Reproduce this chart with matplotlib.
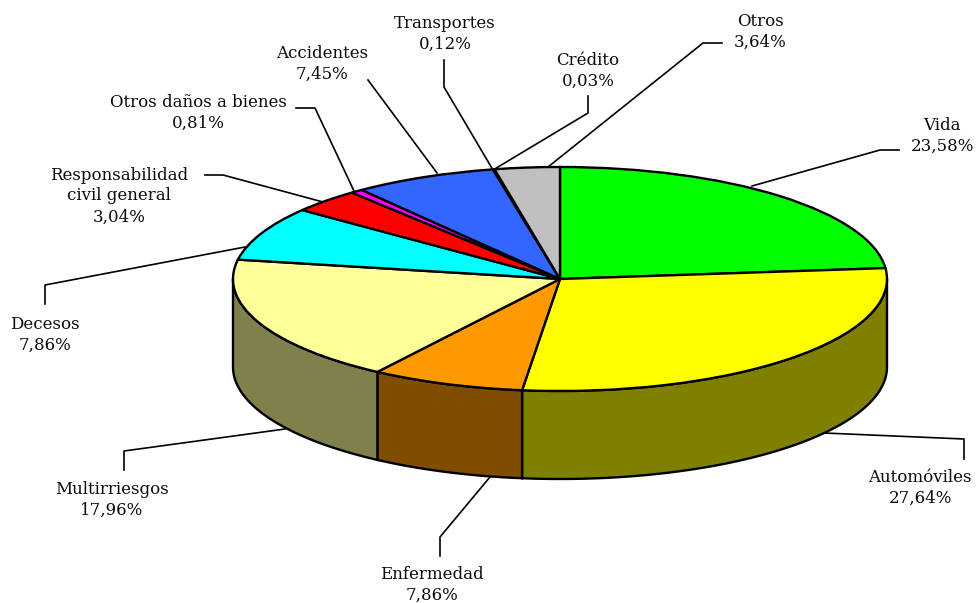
#!/usr/bin/env python3

import matplotlib
matplotlib.use('Agg')
import matplotlib.pyplot as plt
import numpy as np

plt.rcParams['font.family'] = ['DejaVu Serif']

names = ['Vida', 'Automóviles', 'Enfermedad', 'Multirriesgos', 'Decesos',
         'Responsabilidad\ncivil general', 'Otros daños a bienes', 'Accidentes',
         'Transportes', 'Crédito', 'Otros']
# percentages printed on the labels
values = [23.58, 27.64, 7.86, 17.96, 7.86, 3.04, 0.81, 7.45, 0.12, 0.03, 3.64]
# slice sizes as they are actually drawn in the picture (differ a bit from the labels)
drawn = [23.45, 28.40, 7.58, 18.34, 7.78, 3.47, 0.61, 7.08, 0.06, 0.02, 3.21]
top_colors = ['#00FF00', '#FFFF00', '#FF9900', '#FFFF99', '#00FFFF', '#FF0000',
              '#FF00FF', '#3366FF', '#000080', '#800000', '#C0C0C0']
side_colors = ['#008000', '#808000', '#804C00', '#80804C', '#008080', '#800000',
               '#800080', '#1A3380', '#000040', '#400000', '#606060']

# label centres and leader lines, in pixels of the 976x603 image
label_pos = [(942, 136), (920, 488), (432, 585), (112, 500), (45, 335), (119, 196),
             (198, 113), (322, 64), (445, 34), (588, 71), (760, 32)]
leaders = [[(899, 150), (880, 150), (752, 186)],
           [(964, 459), (964, 439), (824, 433)],
           [(440, 556), (440, 537), (490, 477)],
           [(124, 470), (124, 451), (285, 429)],
           [(45, 304), (45, 285), (245, 247)],
           [(205, 175), (223, 175), (323, 202)],
           [(296, 108), (315, 108), (354, 191)],
           [(368, 80), (437, 173)],
           [(444, 60), (444, 87), (493, 170)],
           [(588, 96), (588, 113), (493, 170)],
           [(722, 43), (703, 43), (548, 167)]]

W, H = 976, 603
left, right, top, bottom = 233, 887, 167, 391
depth = 88 / ((bottom - top) / 2)  # side height in pie units

fig = plt.figure(figsize=(W / 100, H / 100), dpi=100)

# pie axes are stretched so the unit circle turns into the ellipse
ax = fig.add_axes([left / W, (H - bottom) / H, (right - left) / W, (bottom - top) / H])
wedges, _ = ax.pie(drawn, colors=top_colors, startangle=90, counterclock=False,
                   wedgeprops={'edgecolor': 'black', 'linewidth': 1.7})
ax.set_aspect('auto')
ax.set_xlim(-1, 1)
ax.set_ylim(-1, 1)
ax.axis('off')
for w in wedges:
    w.set_clip_on(False)
    w.set_zorder(3)

# side wall, only for the part of each slice on the front half
edges = np.cumsum([0] + drawn) / sum(drawn) * 360
for a, b, c in zip(edges[:-1], edges[1:], side_colors):
    a = max(a, 90)
    b = min(b, 270)
    if b <= a:
        continue
    t = np.radians(np.linspace(a, b, 80))
    x = np.sin(t)
    y = np.cos(t)
    ax.fill(np.r_[x, x[::-1]], np.r_[y, y[::-1] - depth], facecolor=c, edgecolor='black',
            linewidth=1.7, zorder=2, clip_on=False)

# labels and leader lines on a pixel overlay
over = fig.add_axes([0, 0, 1, 1])
over.set_xlim(0, W)
over.set_ylim(H, 0)
over.axis('off')
over.patch.set_alpha(0)
for name, v, pos, line in zip(names, values, label_pos, leaders):
    over.text(pos[0], pos[1], '{}\n{:.2f}%'.format(name, v).replace('.', ','),
              ha='center', va='center', fontsize=12, color='#0a0a0a', linespacing=1.3)
    over.plot([p[0] for p in line], [p[1] for p in line], color='black', lw=1.2)

plt.savefig('out.png', dpi=100)
